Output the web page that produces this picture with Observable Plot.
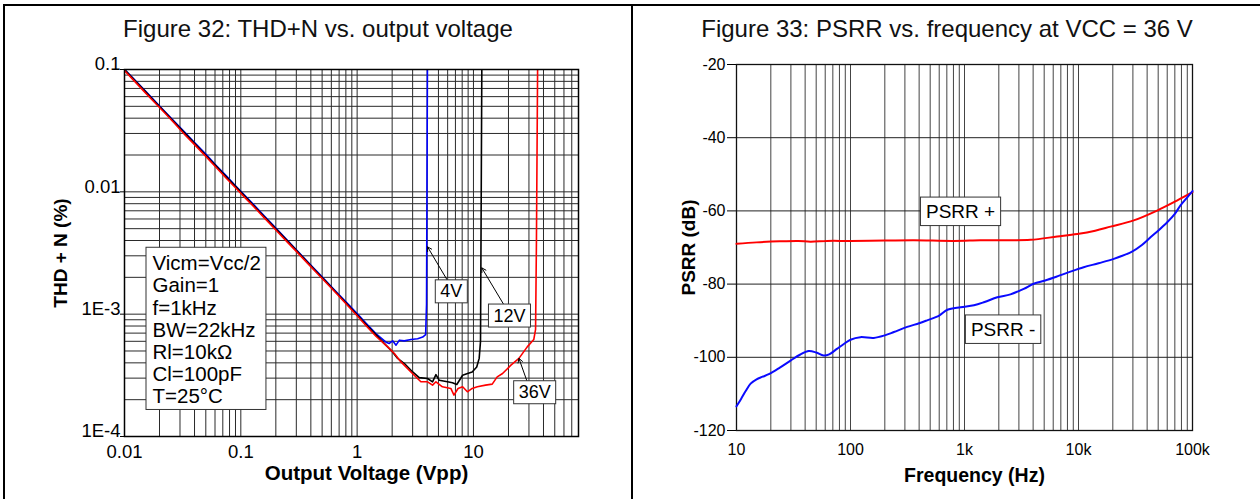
<!DOCTYPE html>
<html><head><meta charset="utf-8">
<script src="https://cdn.jsdelivr.net/npm/d3@7"></script>
<script src="https://cdn.jsdelivr.net/npm/@observablehq/plot@0.6"></script>
<style>
body{margin:0;background:#fff;font-family:"Liberation Sans",Arial,Helvetica,sans-serif;}
#page{position:relative;width:1260px;height:499px;overflow:hidden;background:#fff}
.title{position:absolute;top:15px;font-size:24px;line-height:28px;white-space:nowrap;transform:translateX(-50%);color:#111}
#left,#right{position:absolute;top:45px}
#left{left:0}
#right{left:632px}
.bar{position:absolute;background:#000}
</style></head><body>
<div id="page">
  <div class="bar" style="left:3px;top:4px;width:1257px;height:2px"></div>
  <div class="bar" style="left:3px;top:4px;width:2px;height:495px"></div>
  <div class="bar" style="left:631px;top:4px;width:2px;height:495px"></div>
  <div id="left"></div>
  <div id="right"></div>
  <div class="title" style="left:318px">Figure 32: THD+N vs. output voltage</div>
  <div class="title" style="left:947px">Figure 33: PSRR vs. frequency at VCC = 36 V</div>
</div>
<script>
// ---------- Figure 32 data: THD+N (%) vs output voltage (Vpp) ----------
const v4V = [0.01,0.012,0.015,0.018,0.022,0.027,0.033,0.04,0.05,0.06,0.075,0.09,0.11,0.13,0.16,0.2,0.25,0.3,0.37,0.45,0.55,0.68,0.82,1.0,1.2,1.45,1.6,1.77,1.89,2.02,2.16,2.31,2.54,2.9,3.31,3.66,3.88,3.95,4.02];
const t4V = [0.1,0.0838,0.0672,0.056,0.0458,0.0374,0.0306,0.0253,0.0204,0.0168,0.0135,0.0112,0.0092,0.0078,0.0063,0.00505,0.00403,0.00336,0.00272,0.00224,0.00183,0.00148,0.00123,0.00101,0.00084,0.000695,0.00064,0.00059,0.000576,0.000605,0.000558,0.000613,0.000605,0.00062,0.00063,0.00065,0.00068,0.0012,0.1];

const v12V = [0.01,0.012,0.015,0.018,0.022,0.027,0.033,0.04,0.05,0.06,0.075,0.09,0.11,0.13,0.16,0.2,0.25,0.3,0.37,0.45,0.55,0.68,0.82,1.0,1.2,1.45,1.7,2.0,2.23,2.55,3.0,3.42,4.03,4.45,4.76,5.08,5.98,6.6,7.19,8.07,8.9,9.75,10.67,11.2,11.5,11.8];
const t12V = [0.1,0.0832,0.0665,0.0553,0.0453,0.0369,0.0302,0.0249,0.0199,0.0166,0.0133,0.0111,0.00905,0.00766,0.00622,0.00498,0.00399,0.00333,0.00269,0.00221,0.00181,0.00146,0.00121,0.00099,0.00082,0.00068,0.00058,0.000495,0.000435,0.000395,0.000337,0.000303,0.000298,0.00028,0.00032,0.000288,0.00028,0.000275,0.000266,0.000317,0.000327,0.000337,0.00037,0.000435,0.0006,0.1];

const v36V = [0.01,0.012,0.015,0.018,0.022,0.027,0.033,0.04,0.05,0.06,0.075,0.09,0.11,0.13,0.16,0.2,0.25,0.3,0.37,0.45,0.55,0.68,0.82,1.0,1.2,1.45,1.83,2.09,2.38,2.9,3.53,4.03,4.45,4.76,5.41,6.39,6.8,7.37,8.07,8.87,9.75,10.8,12.7,14.5,16.0,17.8,21.0,24.6,29.0,33.0,34.2,34.8,35.6];
const t36V = [0.098,0.0815,0.065,0.0542,0.0445,0.0362,0.0293,0.0243,0.0195,0.0162,0.0129,0.0108,0.00885,0.00752,0.0061,0.00488,0.0039,0.00326,0.00264,0.00217,0.00178,0.00144,0.00119,0.00097,0.0008,0.00066,0.00054,0.000477,0.000407,0.000337,0.00028,0.00028,0.000263,0.00028,0.000255,0.000247,0.000218,0.000247,0.000255,0.000232,0.000247,0.000255,0.000263,0.000268,0.000307,0.000327,0.000383,0.000435,0.00054,0.00062,0.00075,0.004,0.1];

const thdGridV = [0.01,0.02,0.03,0.04,0.05,0.06,0.07,0.08,0.09,0.1,0.2,0.3,0.4,0.5,0.6,0.7,0.8,0.9,1,2,3,4,5,6,7,8,9,10,20,30,40,50,60,70,80];
const thdGridT = [0.0001,0.0002,0.0003,0.0004,0.0005,0.0006,0.0007,0.0008,0.0009,0.001,0.002,0.003,0.004,0.005,0.006,0.007,0.008,0.009,0.01,0.02,0.03,0.04,0.05,0.06,0.07,0.08,0.09,0.1];
const thdTicksV = [0.01, 0.1, 1, 10];
const thdTickLabelsV = ["0.01", "0.1", "1", "10"];
const thdTicksT = [0.1, 0.01, 0.001, 0.0001];
const thdTickLabelsT = ["0.1", "0.01", "1E-3", "1E-4"];

const infoLines = ["Vicm=Vcc/2", "Gain=1", "f=1kHz", "BW=22kHz", "Rl=10kΩ", "Cl=100pF", "T=25°C"];

const calloutText = ["4V", "12V", "36V"];
const calloutV = [6.45, 20.4, 33.6];
const calloutT = [0.00153, 0.00097, 0.000229];
const arrowFromV = [5.95, 18.2, 28.8];
const arrowFromT = [0.0019, 0.0012, 0.000285];
const arrowToV = [4.03, 11.8, 24.6];
const arrowToT = [0.00355, 0.00239, 0.000435];

// ---------- Figure 33 data: PSRR (dB) vs frequency (Hz) ----------
const psrrPlusF = [10,15,24,35,44.6,62.5,100,200,359,802,1380,2000,3790,6500,9750,14000,19100,30500,49000,73000,100000];
const psrrPlusDb = [-69.0,-68.6,-68.3,-68.2,-68.4,-68.2,-68.2,-68.1,-68.0,-68.2,-68.0,-68.0,-67.9,-67.0,-66.3,-65.4,-64.3,-62.6,-59.9,-57.2,-54.9];

const psrrMinusF = [10,11,12,13.3,15,17,19.2,24,29.8,36,43,50,58,65,76,88,100,122,160,200,240,314,400,470,600,708,924,1210,1500,1940,2530,3310,4050,5100,6500,8500,11100,15000,20400,29500,36000,42800,50000,60000,70000,78500,90000,100000];
const psrrMinusDb = [-113.4,-111.3,-109.3,-107.2,-106.0,-105.3,-104.6,-102.8,-100.9,-99.3,-98.3,-98.7,-99.5,-99.2,-97.7,-96.3,-95.2,-94.5,-94.7,-94.0,-93.1,-91.7,-90.7,-89.9,-88.6,-87.0,-86.3,-85.8,-84.9,-83.6,-82.8,-81.3,-79.9,-79.0,-77.9,-76.6,-75.4,-74.3,-73.1,-71.1,-69.3,-67.2,-65.4,-63.1,-60.8,-58.5,-56.3,-54.6];

const psrrGridF = [10,20,30,40,50,60,70,80,90,100,200,300,400,500,600,700,800,900,1000,2000,3000,4000,5000,6000,7000,8000,9000,10000,20000,30000,40000,50000,60000,70000,80000,90000,100000];
const psrrGridDb = [-120,-100,-80,-60,-40,-20];
const psrrTicksF = [10, 100, 1000, 10000, 100000];
const psrrTickLabelsF = ["10", "100", "1k", "10k", "100k"];
const psrrTickLabelsDb = ["-120", "-100", "-80", "-60", "-40", "-20"];

const psrrLabelText = ["PSRR +", "PSRR -"];
const psrrLabelF = [923, 2180];
const psrrLabelDb = [-60.3, -92.5];

const fontFamily = '"Liberation Sans", Arial, Helvetica, sans-serif';
const blank = () => "";

const left = Plot.plot({
  width: 632, height: 454,
  marginTop: 24, marginRight: 54, marginBottom: 63, marginLeft: 124,
  style: {fontFamily, fontSize: "18px", color: "#000", background: "transparent", overflow: "visible"},
  x: {type: "log", domain: [0.01, 80], axis: null},
  y: {type: "log", domain: [0.0001, 0.1], axis: null},
  marks: [
    Plot.ruleX(thdGridV, {stroke: "#2a2a2a", strokeWidth: 1}),
    Plot.ruleY(thdGridT, {stroke: "#2a2a2a", strokeWidth: 1}),
    Plot.axisY(thdTicksT, {tickSize: 4, tickFormat: blank, label: null, stroke: "#000"}),
    Plot.line(v4V, {x: v4V, y: t4V, stroke: "#0000ff", strokeWidth: 1.6, clip: true}),
    Plot.line(v12V, {x: v12V, y: t12V, stroke: "#000000", strokeWidth: 1.6, clip: true}),
    Plot.line(v36V, {x: v36V, y: t36V, stroke: "#ff0000", strokeWidth: 1.6, clip: true}),
    Plot.frame({stroke: "#000", strokeWidth: 1.5}),
    Plot.arrow(calloutText, {x1: arrowFromV, y1: arrowFromT, x2: arrowToV, y2: arrowToT, stroke: "#000", strokeWidth: 1, headLength: 7}),
    Plot.text(calloutText, {x: calloutV, y: calloutT, text: calloutText, fontSize: 18, fill: "#000"}),
    Plot.text([infoLines.join("\n")], {frameAnchor: "top-left", dx: 28, dy: 185, textAnchor: "start", lineAnchor: "top", lineHeight: 1.083, fontSize: 20.5, fill: "#000"}),
    Plot.text(thdTicksT, {y: thdTicksT, text: thdTickLabelsT, frameAnchor: "left", textAnchor: "end", lineAnchor: "middle", dx: -4, dy: -5, fontSize: 18.5, fill: "#000"}),
    Plot.text(thdTicksV, {x: thdTicksV, text: thdTickLabelsV, frameAnchor: "bottom", textAnchor: "middle", lineAnchor: "middle", dy: 16, fontSize: 18.5, fill: "#000"}),
    Plot.text(["THD + N (%)"], {frameAnchor: "left", textAnchor: "middle", lineAnchor: "middle", dx: -64, rotate: -90, fontSize: 19, fontWeight: "bold", fill: "#000"}),
    Plot.text(["Output Voltage (Vpp)"], {frameAnchor: "bottom", textAnchor: "middle", lineAnchor: "middle", dx: 15, dy: 37, fontSize: 20.5, fontWeight: "bold", fill: "#000"})
  ]
});

const right = Plot.plot({
  width: 628, height: 454,
  marginTop: 19, marginRight: 68, marginBottom: 69, marginLeft: 104,
  style: {fontFamily, fontSize: "15px", color: "#000", background: "transparent", overflow: "visible"},
  x: {type: "log", domain: [10, 100000], axis: null},
  y: {domain: [-120, -20], axis: null},
  marks: [
    Plot.ruleX(psrrGridF, {stroke: "#444", strokeWidth: 1}),
    Plot.ruleY(psrrGridDb, {stroke: "#222", strokeWidth: 1}),
    Plot.axisY(psrrGridDb, {tickSize: 9, tickFormat: blank, label: null, stroke: "#000"}),
    Plot.frame({stroke: "#111", strokeWidth: 1.3}),
    Plot.line(psrrPlusF, {x: psrrPlusF, y: psrrPlusDb, curve: "catmull-rom", stroke: "#ff0000", strokeWidth: 2}),
    Plot.line(psrrMinusF, {x: psrrMinusF, y: psrrMinusDb, curve: "catmull-rom", stroke: "#0a0aff", strokeWidth: 2}),
    Plot.text(psrrLabelText, {x: psrrLabelF, y: psrrLabelDb, text: psrrLabelText, fontSize: 19, fill: "#000"}),
    Plot.text(psrrGridDb, {y: psrrGridDb, text: psrrTickLabelsDb, frameAnchor: "left", textAnchor: "end", lineAnchor: "middle", dx: -11, fontSize: 16, fill: "#000"}),
    Plot.text(psrrTicksF, {x: psrrTicksF, text: psrrTickLabelsF, frameAnchor: "bottom", textAnchor: "middle", lineAnchor: "middle", dy: 19, fontSize: 16, fill: "#000"}),
    Plot.text(["PSRR (dB)"], {frameAnchor: "left", textAnchor: "middle", lineAnchor: "middle", dx: -48, rotate: -90, fontSize: 19, fontWeight: "bold", fill: "#000"}),
    Plot.text(["Frequency (Hz)"], {frameAnchor: "bottom", textAnchor: "middle", lineAnchor: "middle", dx: 10, dy: 45, fontSize: 19.5, fontWeight: "bold", fill: "#000"})
  ]
});

document.getElementById("left").append(left);
document.getElementById("right").append(right);

// white boxes with borders behind annotation texts (matched by their content)
function boxify(svg, match, padL, padR, padT, padB) {
  Array.from(svg.querySelectorAll("text")).filter(t => match(t.textContent)).forEach(t => {
    const b = t.getBBox();
    const r = document.createElementNS("http://www.w3.org/2000/svg", "rect");
    r.setAttribute("x", b.x - padL);
    r.setAttribute("y", b.y - padT);
    r.setAttribute("width", b.width + padL + padR);
    r.setAttribute("height", b.height + padT + padB);
    r.setAttribute("fill", "#fff");
    r.setAttribute("stroke", "#333");
    r.setAttribute("stroke-width", "1");
    const tr = t.getAttribute("transform");
    if (tr) r.setAttribute("transform", tr);
    t.parentNode.insertBefore(r, t);
  });
}
boxify(left, s => calloutText.includes(s), 5, 5, 1.5, 1.5);
boxify(left, s => s.startsWith(infoLines[0]), 6.5, 5, 4, 2);
boxify(right, s => psrrLabelText.includes(s), 5.5, 5.5, 4, 3.5);
</script>
</body></html>
